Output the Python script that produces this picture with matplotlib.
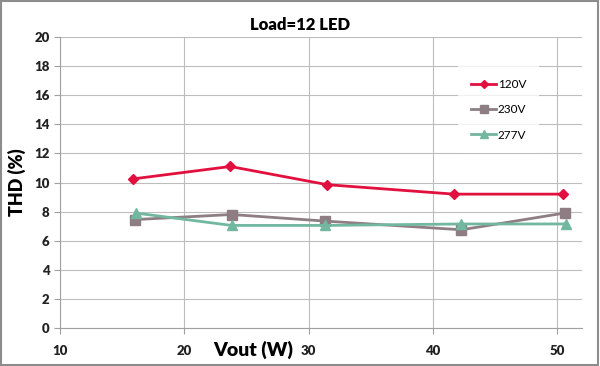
import matplotlib
matplotlib.use("Agg")
import matplotlib.pyplot as plt
from matplotlib.patches import Rectangle

plt.rcParams["font.family"] = ["Lato", "DejaVu Sans"]

title = "Load=12 LED"
x_label = "Vout (W)"
y_label = "THD (%)"
series_names = ["120V", "230V", "277V"]

vout_120 = [15.9, 23.7, 31.5, 41.7, 50.5]
thd_120 = [10.25, 11.1, 9.85, 9.2, 9.2]
vout_230 = [16.0, 23.8, 31.3, 42.3, 50.6]
thd_230 = [7.45, 7.8, 7.35, 6.75, 7.9]
vout_277 = [16.1, 23.8, 31.3, 42.3, 50.7]
thd_277 = [7.9, 7.05, 7.05, 7.15, 7.15]

x_ticks = [10, 20, 30, 40, 50]
y_ticks = list(range(0, 21, 2))

colors = ["#E2103E", "#8E7E84", "#72B7A0"]
markers = ["D", "s", "^"]
msizes = [5, 7, 6.5]

fig = plt.figure(figsize=(6.0, 3.66), dpi=100)
ax = fig.add_axes([60/600, 1-328/366, (582-60)/600, (328-37)/366])

# figure border
fig.patches.append(Rectangle((0.002, 0.003), 0.995, 0.993, transform=fig.transFigure,
                             fill=False, edgecolor="#8C8C8C", linewidth=1.5))

ax.set_xlim(10, 52)
ax.set_ylim(0, 20)
ax.set_xticks(x_ticks)
ax.set_yticks(y_ticks)
ax.grid(True, color="#BDBDBD", linewidth=0.8)
ax.set_axisbelow(True)
for s in ["top", "right"]:
    ax.spines[s].set_visible(False)
ax.spines["left"].set_color("#A0A0A0")
ax.spines["bottom"].set_color("#A0A0A0")
ax.tick_params(axis="both", length=4, color="#A0A0A0", labelsize=9.5)
ax.tick_params(axis="x", pad=8)
for lab in ax.get_xticklabels() + ax.get_yticklabels():
    lab.set_fontweight("heavy")
    lab.set_color("#222222")

data = [(vout_120, thd_120), (vout_230, thd_230), (vout_277, thd_277)]
for (xs, ys), name, c, m, ms in zip(data, series_names, colors, markers, msizes):
    ax.plot(xs, ys, color=c, marker=m, markersize=ms, linewidth=2, label=name)

leg = ax.legend(loc="upper left", bbox_to_anchor=(0.752, 0.92), frameon=True,
                fontsize=8.5, handlelength=2.1, labelspacing=1.2, borderpad=1.1,
                handletextpad=0.15, markerscale=0.8, fancybox=False)
leg.get_frame().set_edgecolor("none")
leg.get_frame().set_facecolor("white")

fig.text(0.5, 1-25/366, title, ha="center", va="center", fontsize=12, fontweight="heavy")
fig.text(253/600, 1-350/366, x_label, ha="center", va="center", fontsize=14, fontweight="heavy")
fig.text(17/600, 1-182/366, y_label, ha="center", va="center", fontsize=13,
         fontweight="heavy", rotation=90)

fig.savefig("out.png", dpi=100)
